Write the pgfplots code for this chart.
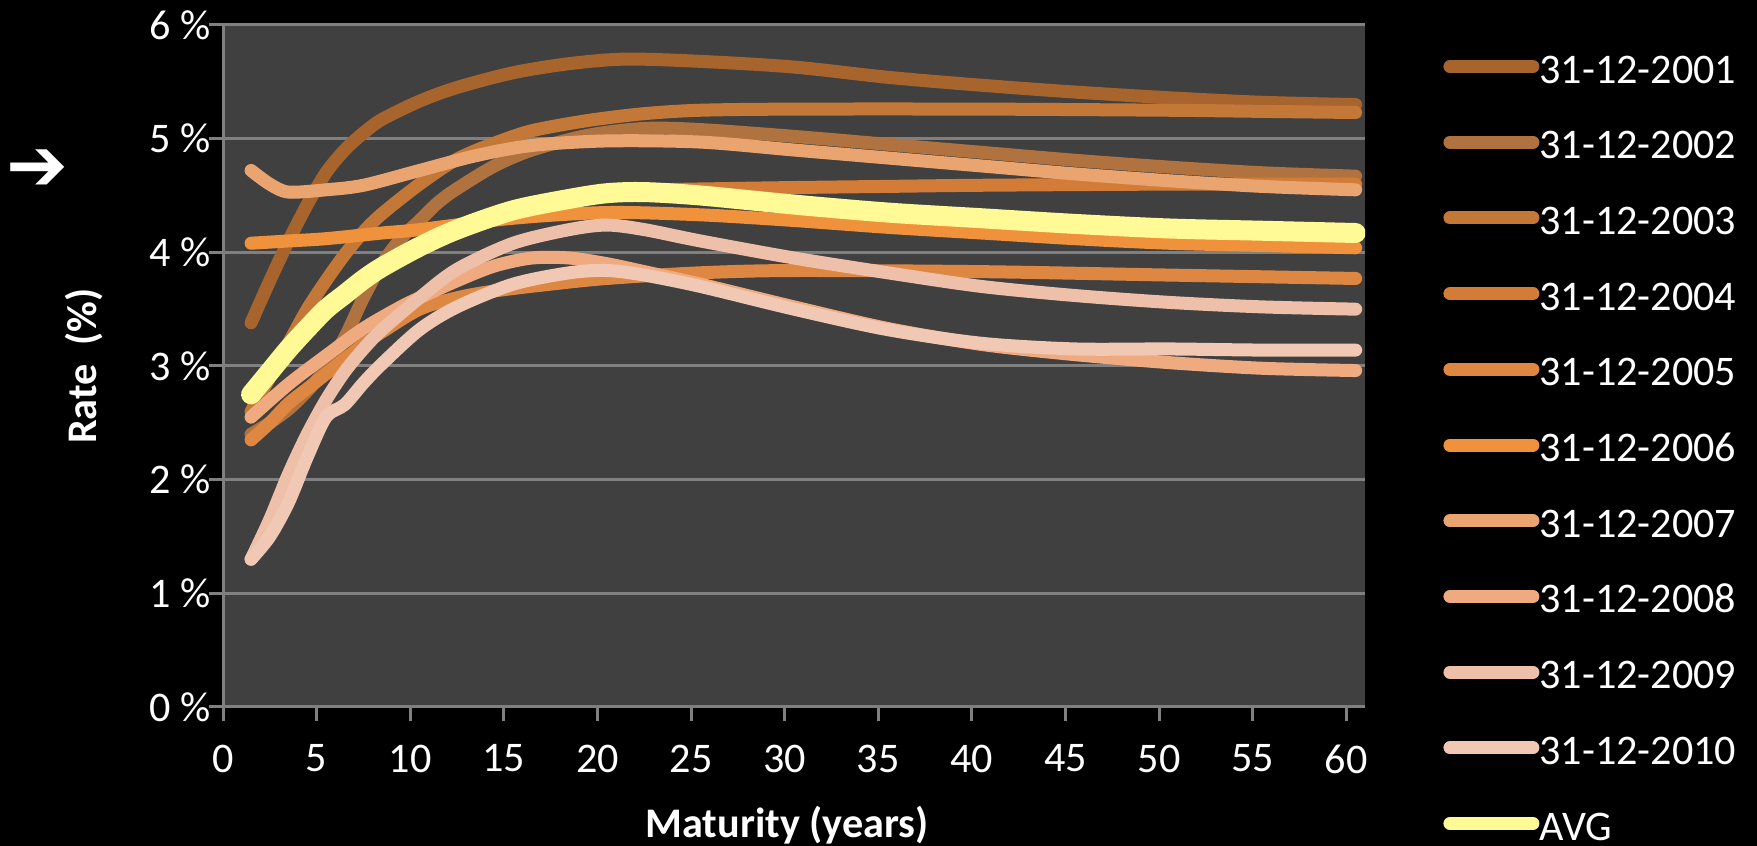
\documentclass[border=0pt]{standalone}
\usepackage{fontspec}
\setmainfont{Carlito}
\newfontfamily\symfont{DejaVu Sans}
\usepackage{pgfplots}
\pgfplotsset{compat=1.18}

\definecolor{plotbg}{RGB}{64,64,64}
\definecolor{gridgray}{RGB}{128,128,128}
\definecolor{c2001}{RGB}{168,100,45}
\definecolor{c2002}{RGB}{176,114,62}
\definecolor{c2003}{RGB}{196,120,56}
\definecolor{c2004}{RGB}{210,124,56}
\definecolor{c2005}{RGB}{222,135,66}
\definecolor{c2006}{RGB}{240,145,60}
\definecolor{c2007}{RGB}{234,164,112}
\definecolor{c2008}{RGB}{240,170,128}
\definecolor{c2009}{RGB}{238,192,170}
\definecolor{c2010}{RGB}{240,200,180}
\definecolor{cavg}{RGB}{255,250,150}

\begin{document}
\begin{tikzpicture}
\fill[black] (0,0) rectangle (175.7mm,84.6mm);
\node[text=white, font=\symfont\bfseries\fontsize{21}{21}\selectfont, inner sep=0pt] at (3.7mm,67.6mm) {➔};
\begin{axis}[
    at={(22.3mm,13.9mm)}, anchor=south west,
    scale only axis, width=114.2mm, height=68.2mm,
    xmin=-0.5, xmax=60.5, ymin=0, ymax=6,
    axis background/.style={fill=plotbg},
    axis x line*=bottom, axis y line*=left,
    axis line style={draw=gridgray, line width=0.3mm, -},
    ymajorgrids, grid style={draw=gridgray, line width=0.3mm},
    tick align=outside, major tick length=1.4mm,
    tick style={draw=gridgray, line width=0.3mm},
    xtick={-0.5,4.5,...,59.5},
    xticklabels={0,5,10,15,20,25,30,35,40,45,50,55,60},
    ytick={0,1,2,3,4,5,6},
    yticklabels={0 \%,1 \%,2 \%,3 \%,4 \%,5 \%,6 \%},
    ticklabel style={font=\fontsize{12}{14}\selectfont, text=white, inner sep=0pt},
    xticklabel style={anchor=north, yshift=-2.3mm},
    yticklabel style={anchor=east, xshift=0.2mm},
    xlabel={\bfseries Maturity (years)},
    ylabel={\bfseries Rate~~(\%)},
    label style={font=\fontsize{12}{14}\selectfont, text=white},
    xlabel style={at={(axis description cs:0.494,0)}, anchor=base, yshift=-13.1mm},
    ylabel style={at={(axis description cs:-0.1221,0.5)}, anchor=center},
    every axis plot/.append style={line width=1.3mm, smooth, line cap=round, line join=round},
    legend cell align=left,
    legend style={at={(1.0687,0.953)}, anchor=north west, draw=none, fill=none,
        inner sep=0pt, outer sep=0pt, row sep=4.97mm, column sep=0mm,
        font=\fontsize{12}{14}\selectfont, text=white,
        nodes={inner sep=0pt, text height=2.6mm, text depth=0pt}},
    legend image code/.code={
        \draw[#1, line width=1.3mm, line cap=round] (0mm,0.35mm) -- (8.3mm,0.35mm);},
]
\addplot[c2001] coordinates {(1,3.38) (2,3.75) (3,4.1) (4,4.42) (5,4.7) (6,4.9) (7,5.05) (8,5.17) (10,5.33) (12,5.45) (15,5.58) (18,5.66) (21,5.7) (25,5.68) (30,5.63) (35,5.54) (40,5.47) (45,5.41) (50,5.36) (55,5.32) (60,5.3)};
\addplot[c2002] coordinates {(1,2.4) (2,2.5) (3,2.62) (4,2.78) (5,2.98) (6,3.25) (7,3.6) (8,3.9) (9,4.12) (10,4.28) (11,4.44) (12,4.56) (14,4.76) (16,4.9) (19,5.03) (22,5.09) (25,5.08) (30,5.02) (35,4.95) (40,4.88) (45,4.81) (50,4.75) (55,4.7) (60,4.67)};
\addplot[c2003] coordinates {(1,2.6) (2,2.9) (3,3.2) (4,3.5) (5,3.75) (6,3.98) (7,4.18) (8,4.34) (10,4.6) (12,4.82) (14,4.96) (16,5.07) (19,5.16) (22,5.22) (25,5.25) (30,5.26) (40,5.26) (50,5.25) (55,5.24) (60,5.23)};
\addplot[c2004] coordinates {(1,2.72) (2,2.92) (3,3.12) (4,3.3) (5,3.47) (6,3.6) (7,3.73) (8,3.85) (10,4.03) (12,4.2) (15,4.38) (18,4.48) (20,4.52) (23,4.55) (26,4.56) (30,4.57) (35,4.58) (40,4.59) (50,4.6) (60,4.6)};
\addplot[c2005] coordinates {(1,2.35) (2,2.5) (3,2.67) (4,2.8) (5,2.93) (6,3.06) (7,3.19) (8,3.3) (10,3.5) (12,3.6) (14,3.66) (17,3.72) (20,3.77) (25,3.82) (30,3.84) (40,3.83) (50,3.8) (60,3.77)};
\addplot[c2006] coordinates {(1,4.08) (3,4.1) (5,4.12) (8,4.17) (10,4.2) (15,4.3) (20,4.35) (25,4.33) (30,4.28) (35,4.22) (40,4.17) (45,4.12) (50,4.08) (55,4.06) (60,4.04)};
\addplot[c2007] coordinates {(1,4.72) (2,4.6) (3,4.53) (5,4.55) (7,4.59) (10,4.72) (13,4.85) (16,4.94) (20,4.98) (25,4.97) (30,4.9) (35,4.83) (40,4.76) (45,4.69) (50,4.63) (55,4.58) (60,4.55)};
\addplot[c2008] coordinates {(1,2.55) (3,2.84) (5,3.09) (7,3.33) (9,3.52) (10,3.6) (12,3.75) (14,3.88) (16,3.95) (18,3.95) (20,3.9) (22,3.83) (25,3.72) (30,3.52) (35,3.33) (40,3.19) (45,3.1) (50,3.03) (55,2.98) (60,2.96)};
\addplot[c2009] coordinates {(1,1.3) (2,1.65) (3,2.05) (4,2.4) (5,2.7) (6,2.95) (7,3.15) (8,3.32) (10,3.6) (12,3.85) (15,4.08) (18,4.2) (20,4.24) (22,4.2) (25,4.1) (30,3.95) (35,3.82) (40,3.7) (45,3.62) (50,3.56) (55,3.52) (60,3.5)};
\addplot[c2010] coordinates {(1,1.3) (2,1.5) (3,1.8) (4,2.2) (5,2.55) (6,2.66) (7,2.85) (8,3.02) (10,3.32) (12,3.52) (15,3.72) (18,3.82) (20,3.84) (22,3.8) (25,3.7) (30,3.5) (35,3.32) (40,3.2) (45,3.15) (50,3.15) (55,3.14) (60,3.14)};
\addplot[cavg, line width=2.0mm] coordinates {(1,2.75) (2,2.95) (3,3.15) (4,3.33) (5,3.5) (6,3.63) (7,3.76) (8,3.87) (10,4.05) (12,4.2) (15,4.37) (18,4.47) (20,4.52) (22,4.53) (25,4.5) (30,4.42) (35,4.35) (40,4.3) (45,4.25) (50,4.21) (55,4.19) (60,4.17)};
\legend{31-12-2001,31-12-2002,31-12-2003,31-12-2004,31-12-2005,31-12-2006,31-12-2007,31-12-2008,31-12-2009,31-12-2010,AVG}
\end{axis}
\pgfresetboundingbox
\path (0,0) rectangle (175.7mm,84.6mm);
\end{tikzpicture}
\end{document}
